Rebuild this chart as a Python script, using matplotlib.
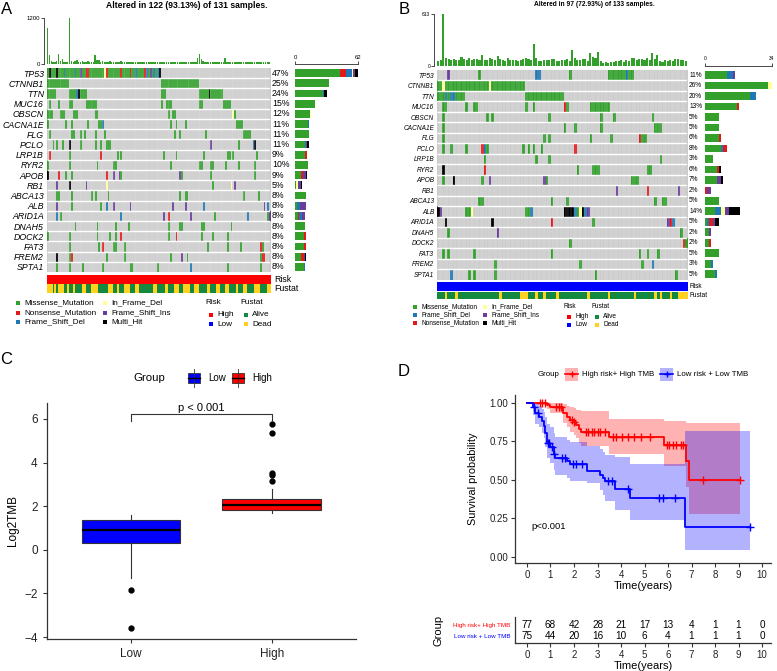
import numpy as np
import matplotlib
matplotlib.use("Agg")
import matplotlib.pyplot as plt
from matplotlib.colors import to_rgb
from matplotlib.patches import Rectangle

plt.rcParams['font.family'] = ['Liberation Sans', 'DejaVu Sans']

# ---------------- data ----------------
genes = ['TP53', 'CTNNB1', 'TTN', 'MUC16', 'OBSCN', 'CACNA1E', 'FLG', 'PCLO', 'LRP1B', 'RYR2',
         'APOB', 'RB1', 'ABCA13', 'ALB', 'ARID1A', 'DNAH5', 'DOCK2', 'FAT3', 'FREM2', 'SPTA1']

# M missense, N nonsense, D frame shift del, I in frame del, S frame shift ins, X multi hit
# "a-bC" = samples a..b with code C (later tokens override)
events_A = [
    "0-61M 1X 5X 9D 15D 18S 21-22N 31I 32N 40N 45N 48D 53N 54D 56S 58D 60D 61X",
    "0-11M 62-82M",
    "0-4M 12-21M 16D 17X 62-64M 83-95M 88X",
    "1M 6M 12-13M 21-26M 62M 65-67M 83-84M 96-99M",
    "0-2M 7-9M 14-16M 26-27M 66M 68-69M 101I 102M",
    "0M 10M 13M 22M 28-29M 30D 67M 70M 75M 103-106M",
    "1M 13M 14M 18M 20M 26M 31M 69M 72M 86M 107-110M",
    "3M 5M 8M 12X 18M 26M 29M 32-34M 89S 104M 112D 113X",
    "1N 12M 29N 38M 40M 63M 70M 85M 98-99M 101M 114M",
    "0M 12M 27M 36-37M 67M 83-84M 89-90M 97M 104M 113M",
    "0X 6N 10M 13M 32N 36S 39S 40M 72S 73M 89M 113M",
    "5S 12X 21S 32I 90M 100I 102S",
    "5-6M 13M 24M 26M 33M 72M 75-76M 107M 115M",
    "5S 13M 29M 32D 36S 45S 68S 75S 85D 118S 120D",
    "5D 7M 40D 63S 66N 78S 91M 109D 120M 121S",
    "15M 27M 37M 44M 66M 72-73M 84-85M 100M",
    "0M 12M 27M 34M 37M 40N 66M 70N 84M 90M 98M",
    "12M 28M 30N 36-37M 42M 87M 98M 105M 116N 117M",
    "5X 12M 13N 32M 42M 67M 73S 76M 116M 117-118N",
    "5M 12M 19M 30M 45-46M 60M 78D 98M 116M",
]
pct_A = ['47%', '25%', '24%', '15%', '12%', '11%', '11%', '11%', '9%', '10%',
         '9%', '5%', '8%', '8%', '8%', '8%', '8%', '8%', '8%', '8%']
tmb_A = [940, 230, 70, 60, 55, 80, 250, 70, 130, 60,
         50, 45, 1210, 90, 60, 75, 105, 60, 55, 85,
         60, 50, 70, 55, 60, 45, 240, 110, 95, 60,
         70, 65, 55, 60, 75, 60, 50, 55, 65, 60,
         70, 55, 50, 45, 50, 55, 60, 45, 50, 40,
         45, 50, 60, 45, 55, 50, 45, 60, 50, 55,
         45, 65, 60, 55, 50, 45, 55, 60, 50, 45,
         55, 50, 60, 55, 45, 50, 60, 55, 50, 45,
         55, 60, 150, 260, 120, 70, 55, 60, 50, 45,
         60, 55, 50, 60, 45, 55, 60, 150, 45, 50,
         55, 60, 45, 50, 55, 60, 45, 50, 60, 55,
         45, 50, 55, 45, 50, 55, 45, 50, 55, 60, 50, 45]
fustat_A = ("DDDADADDDA ADAADAAAAD DAAADDDDAA AAADDDAADA AADDDAAADD AAAAAAAADD "
            "AAAADDAAAD DDAADDDDAA DDDAAAADDA AADDAAADDA AAADAAADDA AAADDDAAAA DD").replace(' ', '')

events_B = [
    "4S 16M 38-39D 51M 66-75M 73D",
    "0-33M 2I 20I",
    "0-10M 3D 5-6D 34-48M",
    "2M 3M 11M 14-15M 34M 37M 49N 50M 59-66M",
    "2M 19M 21M 43M 63M 68M 83M",
    "2M 49M 53M 63M 84-86M",
    "2M 41M 43M 59M 67M 78N 79-80M",
    "2M 5M 11M 17N 18D 19M 33M 35M 37M 40M 53N",
    "18M 38M 43M 86M",
    "2X 18N 54M 60-62M 81-82M",
    "2M 6X 17M 20S 41S 42M 75-77M",
    "69S 81N 93S",
    "16-17M 44M 50M 84M 87-88M",
    "0X 1S 11-12M 13I 34-35M 36D 49-52X 53D 54M 55I 56X 57D 58S",
    "3X 21X 44N 60M 89S 90N 91D",
    "4M 23S 94M",
    "51M 95N 96M",
    "2M 4M 14M 44M 78M 81M 85M",
    "22M 55M 79M 83D",
    "5D 12M 14M 22M 61M 92M",
]
pct_B = ['11%', '26%', '20%', '13%', '5%', '5%', '6%', '8%', '3%', '6%',
         '7%', '2%', '5%', '14%', '5%', '2%', '2%', '5%', '3%', '5%']
tmb_B = [55, 70, 610, 90, 80, 75, 85, 70, 65, 110,
         80, 75, 90, 70, 85, 80, 75, 130, 70, 65,
         90, 85, 75, 120, 80, 70, 60, 95, 75, 65,
         70, 60, 75, 80, 90, 85, 70, 265, 95, 60,
         55, 70, 75, 65, 80, 85, 60, 55, 75, 70,
         85, 60, 185, 95, 75, 70, 85, 80, 60, 155,
         110, 90, 170, 55, 40, 45, 40, 50, 45, 60,
         55, 70, 50, 75, 60, 95, 90, 70, 85, 80,
         75, 90, 70, 155, 80, 130, 60, 50, 70, 55,
         75, 60, 85, 80, 65, 70, 60]
dead_B = [3, 7, 24, 32, 33, 34, 38, 41, 46, 58, 66, 76, 84, 86, 90, 93, 94, 95, 96]

# boxplot (panel C)
box_groups = ['Low', 'High']
box_q1 = [0.30, 1.83]
box_med = [0.91, 2.05]
box_q3 = [1.37, 2.33]
box_whislo = [-1.28, 1.67]
box_whishi = [1.60, 2.77]
box_fliers = [[-1.84, -3.57], [3.17, 3.43, 3.51, 5.37, 5.76]]

# survival (panel D)
km_hi_t = [0, 0.85, 1.0, 1.55, 1.7, 1.85, 2.0, 2.1, 2.2, 2.3, 3.5, 5.82, 6.75, 6.9, 9.05]
km_hi_s = [1.0, 0.985, 0.97, 0.93, 0.91, 0.89, 0.875, 0.855, 0.83, 0.81, 0.775, 0.725, 0.62, 0.50, 0.50]
km_hi_up = [1.0, 1.0, 1.0, 0.99, 0.98, 0.97, 0.965, 0.955, 0.95, 0.945, 0.895, 0.88, 0.87, 0.87, 0.87]
km_hi_lo = [1.0, 0.96, 0.93, 0.87, 0.84, 0.81, 0.79, 0.77, 0.74, 0.72, 0.665, 0.59, 0.45, 0.28, 0.28]
km_hi_cens = [0.55, 0.65, 0.75, 1.25, 1.35, 1.45, 1.9, 2.0, 2.5, 2.6, 2.75, 2.85, 3.0, 3.1, 3.3,
              3.65, 3.8, 4.05, 4.3, 4.55, 4.85, 5.25, 5.95, 6.05, 6.2, 6.35, 6.55, 6.65, 7.5, 9.05]
km_lo_t = [0, 0.25, 0.35, 0.5, 0.64, 0.71, 0.78, 0.85, 1.0, 1.13, 1.2, 1.7, 1.84, 2.55,
           3.12, 3.22, 3.33, 3.76, 4.4, 6.74, 9.5]
km_lo_s = [1.0, 0.97, 0.93, 0.91, 0.88, 0.85, 0.80, 0.74, 0.71, 0.665, 0.64, 0.62, 0.60, 0.555,
           0.53, 0.51, 0.49, 0.44, 0.38, 0.19, 0.19]
km_lo_up = [1.0, 1.0, 0.99, 0.98, 0.96, 0.94, 0.91, 0.86, 0.84, 0.80, 0.78, 0.76, 0.745, 0.72,
            0.70, 0.68, 0.66, 0.65, 0.60, 0.815, 0.815]
km_lo_lo = [1.0, 0.92, 0.86, 0.84, 0.80, 0.77, 0.71, 0.64, 0.61, 0.56, 0.53, 0.51, 0.49, 0.48,
            0.43, 0.40, 0.36, 0.30, 0.235, 0.045, 0.045]
km_lo_cens = [0.3, 0.45, 0.9, 0.95, 1.05, 1.15, 1.5, 1.6, 1.95, 2.1, 2.35, 3.45, 3.6, 4.3,
              5.6, 5.8, 6.3, 9.5]
risk_times = list(range(11))
risk_hi = [77, 68, 42, 28, 21, 17, 13, 4, 1, 1, 0]
risk_lo = [75, 44, 20, 16, 10, 6, 4, 1, 1, 1, 0]

# ---------------- figure ----------------
W, H = 777, 671
fig = plt.figure(figsize=(W / 100, H / 100), dpi=100)
canvas = fig.add_axes([0, 0, 1, 1])
canvas.set_xlim(0, W)
canvas.set_ylim(H, 0)
canvas.axis('off')


def axpx(x0, y0, x1, y1):
    return fig.add_axes([x0 / W, 1 - y1 / H, (x1 - x0) / W, (y1 - y0) / H])


vc_col = {'M': '#33A02C', 'N': '#E31A1C', 'D': '#1F78B4', 'I': '#FFFF99', 'S': '#6A3D9A', 'X': 'black'}
vc_name = {'M': 'Missense_Mutation', 'N': 'Nonsense_Mutation', 'D': 'Frame_Shift_Del',
           'I': 'In_Frame_Del', 'S': 'Frame_Shift_Ins', 'X': 'Multi_Hit'}
fus_col = {'A': '#138A3F', 'D': '#FFD21F'}


def parse(events, n):
    mat = np.full((len(events), n), '', dtype='<U1')
    for i, ev in enumerate(events):
        for tok in ev.split():
            code, rng = tok[-1], tok[:-1]
            if '-' in rng:
                a, b = map(int, rng.split('-'))
            else:
                a = b = int(rng)
            mat[i, a:b + 1] = code
    return mat


def oncoplot(events, pct, tmb, tmb_top, risk_col, fustat, bar_max, order,
             x0, x1, top_y, mat_y, risk_y, fus_y, bar_x, lab_x, fs_gene, fs_tick):
    n = len(tmb)
    ng = len(genes)
    mat = parse(events, n)
    # sample TMB bars
    ax = axpx(x0, top_y[0], x1, top_y[1])
    ax.bar(np.arange(n), tmb, width=0.8, color=vc_col['M'], lw=0)
    ax.set_xlim(-0.5, n - 0.5)
    ax.set_ylim(0, tmb_top)
    ax.set_yticks([0, tmb_top])
    ax.set_xticks([])
    for s in ['top', 'right', 'bottom']:
        ax.spines[s].set_visible(False)
    ax.spines['left'].set_position(('outward', 2))
    ax.spines['left'].set_linewidth(0.5)
    ax.tick_params(axis='y', labelsize=fs_tick, length=2, width=0.5, pad=1)
    # mutation matrix
    bg = to_rgb('#CCCCCC')
    rgb = np.array([[to_rgb(vc_col[c]) if c else bg for c in row] for row in mat])
    ax = axpx(x0, mat_y[0], x1, mat_y[1])
    ax.imshow(rgb, aspect='auto', interpolation='nearest', extent=(-0.5, n - 0.5, ng - 0.5, -0.5))
    ax.vlines(np.arange(n - 1) + 0.5, -0.5, ng - 0.5, color='white', lw=0.25, alpha=0.6)
    ax.hlines(np.arange(ng - 1) + 0.5, -0.5, n - 0.5, color='white', lw=1.0)
    ax.set_xticks([])
    ax.set_yticks(range(ng))
    ax.set_yticklabels(genes, fontstyle='italic', fontsize=fs_gene)
    ax.tick_params(axis='y', length=0, pad=2)
    for s in ax.spines.values():
        s.set_visible(False)
    for i, p in enumerate(pct):
        ax.annotate(p, xy=(1, i), xycoords=('axes fraction', 'data'), xytext=(1.5, 0),
                    textcoords='offset points', va='center', ha='left', fontsize=fs_gene)
    # gene bars
    ax = axpx(bar_x[0], mat_y[0], bar_x[1], mat_y[1])
    left = np.zeros(ng)
    for c in order:
        cnt = (mat == c).sum(axis=1)
        ax.barh(np.arange(ng), cnt, left=left, height=0.75, color=vc_col[c], lw=0)
        left += cnt
    ax.set_ylim(ng - 0.5, -0.5)
    ax.set_xlim(0, bar_max)
    ax.set_yticks([])
    ax.set_xticks([0, bar_max])
    ax.xaxis.tick_top()
    for s in ['bottom', 'right', 'left']:
        ax.spines[s].set_visible(False)
    ax.spines['top'].set_position(('outward', 3))
    ax.spines['top'].set_linewidth(0.5)
    ax.tick_params(axis='x', labelsize=fs_tick, length=2, width=0.5, pad=1)
    ax.patch.set_alpha(0)
    # clinical annotation bars
    ax = axpx(x0, risk_y[0], x1, risk_y[1])
    ax.imshow([[to_rgb(risk_col)] * n], aspect='auto', extent=(-0.5, n - 0.5, 0.5, -0.5))
    ax.axis('off')
    ax = axpx(x0, fus_y[0], x1, fus_y[1])
    ax.imshow([[to_rgb(fus_col[c]) for c in fustat]], aspect='auto', interpolation='nearest',
              extent=(-0.5, n - 0.5, 0.5, -0.5))
    ax.axis('off')
    canvas.text(lab_x, sum(risk_y) / 2, 'Risk', fontsize=fs_gene, va='center')
    canvas.text(lab_x, sum(fus_y) / 2, 'Fustat', fontsize=fs_gene, va='center')


def onco_legend(x_cols, ys, codes, risk_xy, fus_xy, dy, fs, ms):
    for col, xc in enumerate(x_cols):
        for r, y in enumerate(ys):
            c = codes[col][r]
            canvas.plot(xc, y, 's', ms=ms, color=vc_col[c], mew=0)
            canvas.text(xc + 6, y, vc_name[c], fontsize=fs, va='center')
    for (tx, ty), title, items in [(risk_xy, 'Risk', [('High', 'red'), ('Low', 'blue')]),
                                   (fus_xy, 'Fustat', [('Alive', fus_col['A']), ('Dead', fus_col['D'])])]:
        canvas.text(tx, ty, title, fontsize=fs, va='center')
        for k, (lab, col) in enumerate(items):
            yy = ty + dy[0] + k * dy[1]
            canvas.plot(tx + 6, yy, 's', ms=ms, color=col, mew=0)
            canvas.text(tx + 12, yy, lab, fontsize=fs, va='center')


# ---------- panel A ----------
canvas.text(1, 9, 'A', fontsize=12, va='center')
canvas.text(187, 5, 'Altered in 122 (93.13%) of 131 samples.', fontsize=6.2,
            fontweight='bold', ha='center', va='center')
oncoplot(events_A, pct_A, tmb_A, 1200, 'red', fustat_A, 62, 'MNDISX',
         46.7, 270, (18, 64), (68, 272), (275, 284), (284.3, 292.8), (295, 358), 274, 6.3, 4.3)
onco_legend([18, 105], [303, 312.5, 322], ['MND', 'ISX'], (205, 302), (240, 302), (13, 9), 5.9, 2.6)

# ---------- panel B ----------
fustat_B = ''.join('D' if i in dead_B else 'A' for i in range(len(tmb_B)))
canvas.text(399, 10, 'B', fontsize=12, va='center')
canvas.text(594, 4.5, 'Altered in 97 (72.93%) of 133 samples.', fontsize=4.8,
            fontweight='bold', ha='center', va='center')
oncoplot(events_B, pct_B, tmb_B, 613, 'blue', fustat_B, 34, 'MDNISX',
         437, 687, (14, 66), (69.8, 279.6), (282.3, 291), (291.7, 299.5), (705, 772), 689.5, 4.7, 3.5)
onco_legend([415, 485], [307, 315, 322.5], ['MDN', 'ISX'], (563, 307), (591, 307), (10, 8), 4.7, 2.2)

# ---------- panel C ----------
canvas.text(0, 360, 'C', fontsize=12, va='center')
ax = axpx(46.7, 403, 356, 639)
stats = [dict(q1=box_q1[i], med=box_med[i], q3=box_q3[i], whislo=box_whislo[i],
              whishi=box_whishi[i], fliers=box_fliers[i], label=box_groups[i]) for i in range(2)]
bp = ax.bxp(stats, positions=[1, 2], widths=0.7, patch_artist=True, showcaps=False,
            boxprops=dict(edgecolor='#333333', lw=0.8),
            whiskerprops=dict(color='#333333', lw=0.8),
            medianprops=dict(color='black', lw=1.6),
            flierprops=dict(marker='o', markerfacecolor='black', markeredgecolor='black', markersize=3.5))
for patch, col in zip(bp['boxes'], ['blue', 'red']):
    patch.set_facecolor(col)
ax.set_xlim(0.4, 2.6)
ax.set_ylim(-4.09, 6.73)
ax.set_yticks([-4, -2, 0, 2, 4, 6])
ax.set_ylabel('Log2TMB', fontsize=8.5, labelpad=4)
for s in ['top', 'right']:
    ax.spines[s].set_visible(False)
for s in ['left', 'bottom']:
    ax.spines[s].set_color('#333333')
    ax.spines[s].set_linewidth(0.9)
ax.tick_params(labelsize=8.5, length=3, width=0.8, color='#333333', labelcolor='#222222')
ax.plot([1, 1, 2, 2], [5.92, 6.21, 6.21, 5.92], color='#333333', lw=0.8)
ax.text(1.5, 6.27, 'p < 0.001', ha='center', va='bottom', fontsize=8)
canvas.text(133, 378, 'Group', fontsize=8.2, va='center')
for bx, col, lab in [(188, 'blue', 'Low'), (232, 'red', 'High')]:
    canvas.plot([bx + 6, bx + 6], [369, 387], color='#333333', lw=0.6)
    canvas.add_patch(Rectangle((bx, 373), 12, 10, facecolor=col, edgecolor='#333333', lw=0.6))
    canvas.plot([bx, bx + 12], [378, 378], color='black', lw=1)
    canvas.text(bx + 20, 378, lab, fontsize=7, va='center')

# ---------- panel D ----------
canvas.text(398, 371, 'D', fontsize=12, va='center')
ax = axpx(515, 395, 771, 563)
ax.fill_between(km_hi_t, km_hi_lo, km_hi_up, step='post', color='red', alpha=0.3, lw=0)
ax.fill_between(km_lo_t, km_lo_lo, km_lo_up, step='post', color='blue', alpha=0.3, lw=0)
ax.step(km_hi_t, km_hi_s, where='post', color='red', lw=1.3)
ax.step(km_lo_t, km_lo_s, where='post', color='blue', lw=1.3)
for tt, ss, cens, col in [(km_hi_t, km_hi_s, km_hi_cens, 'red'), (km_lo_t, km_lo_s, km_lo_cens, 'blue')]:
    idx = np.searchsorted(tt, cens, side='right') - 1
    ax.plot(cens, np.array(ss)[idx], '+', color=col, ms=6, mew=1)
ax.text(0.2, 0.195, 'p<0.001', fontsize=6.8, va='center')
ax.set_xlim(-0.51, 10.38)
ax.set_ylim(-0.041, 1.05)
ax.set_xticks(range(11))
ax.set_yticks([0, 0.25, 0.5, 0.75, 1.0])
ax.set_yticklabels(['0.00', '0.25', '0.50', '0.75', '1.00'])
ax.set_xlabel('Time(years)', fontsize=8, labelpad=1)
ax.set_ylabel('Survival probability', fontsize=7.8, labelpad=8)
for s in ['top', 'right']:
    ax.spines[s].set_visible(False)
for s in ['left', 'bottom']:
    ax.spines[s].set_color('#333333')
    ax.spines[s].set_linewidth(0.9)
ax.tick_params(labelsize=7, length=3, width=0.8, color='#333333', labelcolor='#222222', pad=2)

canvas.text(538, 374, 'Group', fontsize=5.7, va='center')
for kx, col, lab in [(565, 'red', 'High risk+ High TMB'), (660, 'blue', 'Low risk + Low TMB')]:
    canvas.add_patch(Rectangle((kx, 368), 13, 12.5, facecolor=col, alpha=0.3, lw=0))
    canvas.plot([kx, kx + 13], [374.2, 374.2], color=col, lw=1.2)
    canvas.plot(kx + 6.5, 374.2, '+', color=col, ms=5, mew=1)
    canvas.text(kx + 17, 374.2, lab, fontsize=5.7, va='center')

ax = axpx(515, 617, 771, 643)
for t, a, b in zip(risk_times, risk_hi, risk_lo):
    ax.text(t, 0.69, str(a), ha='center', va='center', fontsize=7.2)
    ax.text(t, 0.27, str(b), ha='center', va='center', fontsize=7.2)
ax.set_xlim(-0.51, 10.38)
ax.set_ylim(0, 1)
ax.set_xticks(range(11))
ax.set_yticks([])
ax.set_xlabel('Time(years)', fontsize=8, labelpad=1)
for s in ['top', 'right']:
    ax.spines[s].set_visible(False)
for s in ['left', 'bottom']:
    ax.spines[s].set_color('#333333')
    ax.spines[s].set_linewidth(0.9)
ax.tick_params(labelsize=7, length=3, width=0.8, color='#333333', labelcolor='#222222', pad=2)
canvas.text(510, 625, 'High risk+ High TMB', color='red', fontsize=4.5, ha='right', va='center')
canvas.text(510, 636, 'Low risk + Low TMB', color='blue', fontsize=4.5, ha='right', va='center')
canvas.text(439, 630, 'Group', fontsize=8, rotation=90, ha='center', va='center')

fig.savefig('out.png', dpi=100)
